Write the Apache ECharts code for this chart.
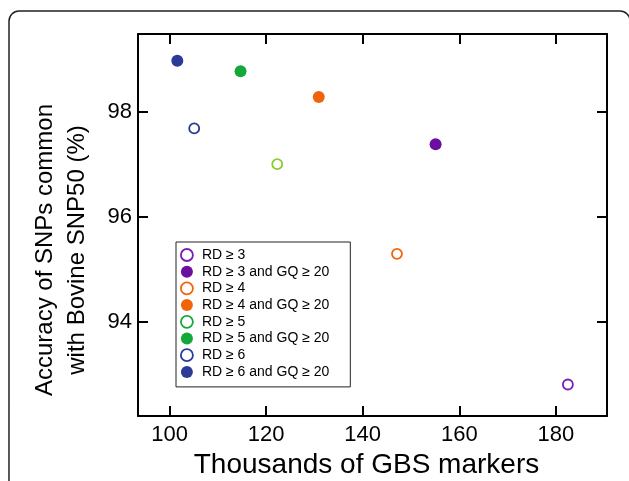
<!DOCTYPE html>
<html>
<head>
<meta charset="utf-8">
<style>
  html, body { margin: 0; padding: 0; background: #fff; }
  #chart { width: 629px; height: 481px; }
</style>
<script src="https://cdn.jsdelivr.net/npm/echarts@6/dist/echarts.min.js"></script>
</head>
<body>
<div id="chart"></div>
<script>
// filter settings, in legend order
var seriesNames = ['RD ≥ 3', 'RD ≥ 3 and GQ ≥ 20', 'RD ≥ 4', 'RD ≥ 4 and GQ ≥ 20',
                   'RD ≥ 5', 'RD ≥ 5 and GQ ≥ 20', 'RD ≥ 6', 'RD ≥ 6 and GQ ≥ 20'];
// thousands of GBS markers
var markerCounts = [182.5, 155.1, 147.1, 130.9, 122.3, 114.7, 105.1, 101.6];
// accuracy (%)
var accuracy = [92.81, 97.39, 95.30, 98.29, 97.01, 98.78, 97.69, 98.98];
var openMarker = [true, false, true, false, true, false, true, false];
var colors = ['#7a1fb5', '#6a0f9e', '#f0650a', '#f0650a', '#8acb2e', '#14a83a', '#2b3a96', '#2b3a96'];
var legendColors = ['#7a1fb5', '#6a0f9e', '#f0650a', '#f0650a', '#14a83a', '#14a83a', '#2b3a96', '#2b3a96'];
var xTicks = [100, 120, 140, 160, 180];
var yTicks = [94, 96, 98];

var font = "'Liberation Sans', Arial, sans-serif";
var chart = echarts.init(document.getElementById('chart'));

var xRange = { min: 93.46, max: 190.6 };
var yRange = { min: 92.21, max: 99.49 };

function makeAxis (base, ticks, showLabel, position) {
  return {
    type: 'value',
    position: position,
    min: base.min,
    max: base.max,
    splitLine: { show: false },
    axisLine: { show: true, onZero: false, lineStyle: { color: '#000', width: 2 } },
    axisTick: { show: true, inside: true, length: 10, customValues: ticks, lineStyle: { color: '#000', width: 2 } },
    axisLabel: { show: showLabel, customValues: ticks, color: '#000', fontSize: 22, fontFamily: font, margin: 8 }
  };
}

var xBottom = makeAxis(xRange, xTicks, true, 'bottom');
xBottom.name = 'Thousands of GBS markers';
xBottom.nameLocation = 'middle';
xBottom.nameGap = 34;
xBottom.nameTextStyle = { color: '#000', fontSize: 28, fontFamily: font, padding: [0, 12, 0, 0] };
var xTop = makeAxis(xRange, xTicks, false, 'top');
var yLeft = makeAxis(yRange, yTicks, true, 'left');
yLeft.axisLabel.margin = 6;
var yRight = makeAxis(yRange, yTicks, false, 'right');

var series = seriesNames.map(function (name, i) {
  return {
    name: name,
    type: 'scatter',
    symbol: 'circle',
    symbolSize: openMarker[i] ? 10 : 12,
    itemStyle: openMarker[i]
      ? { color: '#fff', borderColor: colors[i], borderWidth: 1.8, opacity: 1 }
      : { color: colors[i], borderWidth: 0, opacity: 1 },
    data: [[markerCounts[i], accuracy[i]]]
  };
});

var option = {
  animation: false,
  backgroundColor: '#fff',
  grid: { left: 138, right: 22, top: 34, bottom: 65, outerBoundsMode: 'none' },
  xAxis: [xBottom, xTop],
  yAxis: [yLeft, yRight],
  legend: {
    orient: 'vertical',
    left: 176,
    top: 242,
    padding: [6, 21, 8, 4],
    itemWidth: 20,
    itemHeight: 12,
    itemGap: 2.7,
    borderColor: '#222',
    borderWidth: 1,
    textStyle: { color: '#000', fontSize: 14, fontFamily: font, lineHeight: 14 },
    data: seriesNames.map(function (name, i) {
      return {
        name: name,
        icon: 'circle',
        itemStyle: openMarker[i]
          ? { color: '#fff', borderColor: legendColors[i], borderWidth: 1.8, opacity: 1 }
          : { color: legendColors[i], borderWidth: 0, opacity: 1 }
      };
    })
  },
  graphic: [
    {
      type: 'rect',
      shape: { x: 9, y: 11, width: 621, height: 520, r: 10 },
      style: { fill: 'none', stroke: '#222', lineWidth: 1.5 },
      silent: true
    },
    {
      type: 'text',
      x: 61,
      y: 250,
      rotation: Math.PI / 2,
      style: {
        text: 'Accuracy of SNPs common\nwith Bovine SNP50 (%)',
        fill: '#000',
        font: '24px ' + font,
        align: 'center',
        verticalAlign: 'middle',
        lineHeight: 32
      }
    }
  ],
  series: series
};
chart.setOption(option);
</script>
</body>
</html>
